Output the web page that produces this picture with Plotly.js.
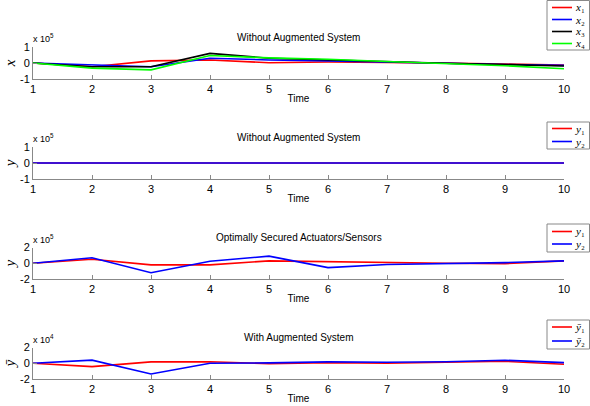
<!DOCTYPE html>
<html>
<head>
<meta charset="utf-8">
<script src="https://cdn.plot.ly/plotly-3.0.1.min.js"></script>
<style>html,body{margin:0;padding:0;background:#fff;}#chart{width:590px;height:406px;}</style>
</head>
<body>
<div id="chart"></div>
<script>
// ---- data (values as displayed, in units of the axis multiplier) ----
const time = [1, 2, 3, 4, 5, 6, 7, 8, 9, 10];

// Panel 1: Without Augmented System (x 10^5)
const x1 = [0, -0.23, 0.13, 0.19, 0.02, 0.06, 0.04, 0.00, -0.06, -0.13];
const x2 = [0, -0.13, -0.23, 0.30, 0.19, 0.13, 0.04, -0.02, -0.09, -0.15];
const x3 = [0, -0.23, -0.23, 0.60, 0.30, 0.19, 0.06, -0.02, -0.10, -0.19];
const x4 = [0, -0.32, -0.43, 0.47, 0.32, 0.23, 0.09, -0.04, -0.17, -0.36];

// Panel 2: Without Augmented System, outputs (x 10^5)
const y1_noaug = [0, 0, 0, 0, 0, 0, 0, 0, 0, 0];
const y2_noaug = [0, 0, 0, 0, 0, 0, 0, 0, 0, 0];

// Panel 3: Optimally Secured Actuators/Sensors (x 10^5)
const y1_opt = [0, 0.50, -0.20, -0.20, 0.30, 0.20, 0.05, 0.00, -0.05, 0.30];
const y2_opt = [0, 0.70, -1.20, 0.25, 0.90, -0.55, -0.15, -0.05, 0.08, 0.30];

// Panel 4: With Augmented System (x 10^4)
const y1_aug = [0, -0.43, 0.17, 0.20, -0.05, 0.08, 0.00, 0.08, 0.25, -0.13];
const y2_aug = [0, 0.40, -1.36, 0.00, 0.05, 0.17, 0.13, 0.20, 0.38, 0.08];

const panelTitles = ["Without Augmented System", "Without Augmented System",
                     "Optimally Secured Actuators/Sensors", "With Augmented System"];
const multipliers = ["x 10<sup>5</sup>", "x 10<sup>5</sup>", "x 10<sup>5</sup>", "x 10<sup>4</sup>"];
const yTickSets = [[-1, 0, 1], [-1, 0, 1], [-2, 0, 2], [-2, 0, 2]];
const yLabels = ["<i>x</i>", "<i>y</i>", "<i>y</i>", "<i>y\u0304</i>"];

// ---- styling ----
const RED = "#ff0000", BLUE = "#0000ff", BLACK = "#000000", GREEN = "#00ff00";
const W = 590, H = 406;
const px = v => v / W;
const py = v => (H - v) / H;
const xDom = [px(33), px(564)];
const panels = [[47, 79], [147, 179], [247.5, 279], [347.5, 379]];
// legend boxes: [top, bottom, entry centres]
const legBoxes = [[0.5, 50, [7.5, 19.5, 31.5, 43.5]], [122, 149, [128.5, 141.5]],
                  [224, 252, [231.5, 244]], [320, 349, [327, 341]]];
const serif = "Liberation Serif";
const sans = "Liberation Sans, Arial, sans-serif";

function tr(y, name, color, idx) {
  const s = idx === 1 ? "" : String(idx);
  return {x: time, y: y, type: "scatter", mode: "lines", name: name,
          line: {color: color, width: 1.6}, showlegend: false,
          xaxis: "x" + s, yaxis: "y" + s, _panel: idx - 1};
}

const traces = [
  tr(x1, "<i>x</i>\u2081", RED, 1),
  tr(x2, "<i>x</i>\u2082", BLUE, 1),
  tr(x3, "<i>x</i>\u2083", BLACK, 1),
  tr(x4, "<i>x</i>\u2084", GREEN, 1),
  tr(y1_noaug, "<i>y</i>\u2081", RED, 2),
  tr(y2_noaug, "<i>y</i>\u2082", BLUE, 2),
  tr(y1_opt, "<i>y</i>\u2081", RED, 3),
  tr(y2_opt, "<i>y</i>\u2082", BLUE, 3),
  tr(y1_aug, "<i>y\u0304</i>\u2081", RED, 4),
  tr(y2_aug, "<i>y\u0304</i>\u2082", BLUE, 4)
];

const layout = {
  width: W, height: H, autosize: false,
  margin: {l: 0, r: 0, t: 0, b: 0},
  paper_bgcolor: "#fff", plot_bgcolor: "#fff",
  font: {family: sans, size: 10, color: "#000"},
  annotations: [], shapes: [], showlegend: false
};

for (let i = 0; i < 4; i++) {
  const s = i === 0 ? "" : String(i + 1);
  const [top, bot] = panels[i];
  const yt = yTickSets[i];
  layout["xaxis" + s] = {
    domain: xDom, anchor: "y" + s, range: [1, 10],
    tickvals: time, ticktext: time.map(String),
    ticks: "inside", ticklen: 4, tickcolor: "#888",
    showline: true, linecolor: "#888", linewidth: 1,
    showgrid: false, zeroline: false,
    tickfont: {family: sans, size: 11, color: "#000"},
    title: {text: "Time", font: {family: sans, size: 10, color: "#000"}, standoff: 0}
  };
  layout["yaxis" + s] = {
    domain: [py(bot), py(top)], anchor: "x" + s,
    range: [yt[0], yt[2]], tickvals: yt, ticktext: yt.map(String),
    ticks: "inside", ticklen: 4, tickcolor: "#888",
    showline: true, linecolor: "#888", linewidth: 1,
    showgrid: false, zeroline: false,
    tickfont: {family: sans, size: 11, color: "#000"},
    title: {text: yLabels[i], font: {family: serif, size: 15, color: "#000"}, standoff: 0}
  };
  layout.annotations.push({
    xref: "paper", yref: "paper", x: (xDom[0] + xDom[1]) / 2, y: py(top - 10),
    xanchor: "center", yanchor: "middle", showarrow: false,
    text: panelTitles[i], font: {family: sans, size: 10, color: "#000"}
  });
  layout.annotations.push({
    xref: "paper", yref: "paper", x: px(31), y: py(top - 1),
    xanchor: "left", yanchor: "bottom", showarrow: false,
    text: multipliers[i], font: {family: sans, size: 9, color: "#000"}
  });
  // compact MATLAB-style legend box
  const [lt, lb, centres] = legBoxes[i];
  layout.shapes.push({
    type: "rect", xref: "paper", yref: "paper",
    x0: px(547), x1: px(589.5), y0: py(lb), y1: py(lt),
    line: {color: "#888", width: 1}, fillcolor: "#fff", layer: "above"
  });
  const ptr = traces.filter(t => t._panel === i);
  ptr.forEach((t, k) => {
    layout.shapes.push({
      type: "line", xref: "paper", yref: "paper",
      x0: px(552), x1: px(572), y0: py(centres[k]), y1: py(centres[k]),
      line: {color: t.line.color, width: 1.6}, layer: "above"
    });
    layout.annotations.push({
      xref: "paper", yref: "paper", x: px(574), y: py(centres[k]),
      xanchor: "left", yanchor: "middle", showarrow: false,
      text: t.name, font: {family: serif, size: 11, color: "#000"},
      borderpad: 0
    });
  });
}

traces.forEach(t => delete t._panel);
Plotly.newPlot("chart", traces, layout, {displayModeBar: false, staticPlot: true});
</script>
</body>
</html>
